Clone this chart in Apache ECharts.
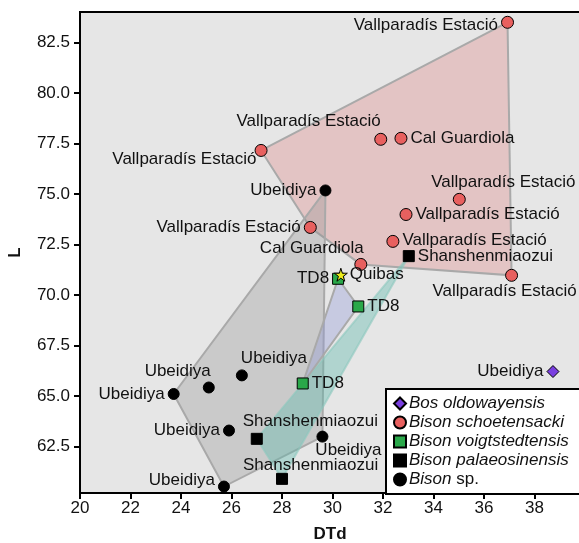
<!DOCTYPE html>
<html>
<head>
<meta charset="utf-8">
<script src="https://cdn.jsdelivr.net/npm/echarts@6.0.0/dist/echarts.min.js"></script>
<style>
  html, body { margin: 0; padding: 0; background: #fff; }
  #chart { width: 579px; height: 543px; }
</style>
</head>
<body>
<div id="chart"></div>
<script>
  // values (DTd, L)
  var bosOldowayensis = [[38.73, 66.21]];
  var bosOldowayensisSites = ['Ubeidiya'];

  var bisonSchoetensacki = [
    [36.93, 83.49], [27.17, 77.15], [31.91, 77.70], [32.71, 77.75], [35.02, 74.73],
    [32.91, 73.98], [29.12, 73.34], [32.39, 72.65], [31.12, 71.51], [37.09, 70.97]
  ];
  var bisonSchoetensackiSites = [
    'Vallparadís Estació', 'Vallparadís Estació', 'Vallparadís Estació', 'Cal Guardiola',
    'Vallparadís Estació', 'Vallparadís Estació', 'Vallparadís Estació', 'Vallparadís Estació',
    'Cal Guardiola', 'Vallparadís Estació'
  ];

  var bisonVoigtstedtensis = [[30.22, 70.80], [31.02, 69.43], [28.82, 65.62]];
  var bisonVoigtstedtensisSites = ['TD8', 'TD8', 'TD8'];

  var bisonPalaeosinensis = [[33.02, 71.92], [27.00, 62.88], [28.00, 60.90]];
  var bisonPalaeosinensisSites = ['Shanshenmiaozui', 'Shanshenmiaozui', 'Shanshenmiaozui'];

  var bisonSp = [
    [29.72, 75.17], [23.71, 65.10], [25.10, 65.42], [26.41, 66.02],
    [25.90, 63.29], [29.60, 62.99], [25.70, 60.52]
  ];
  var bisonSpSites = ['Ubeidiya', 'Ubeidiya', 'Ubeidiya', 'Ubeidiya', 'Ubeidiya', 'Ubeidiya', 'Ubeidiya'];

  var quibas = [[30.33, 71.00]];
  var quibasSites = ['Quibas'];

  // convex hull vertices (indices into the arrays above)
  var schoetensackiHull = [0, 1, 6, 8, 9];
  var bisonSpHull = [0, 1, 6, 5];
  var voigtstedtensisHull = [0, 1, 2];
  var palaeosinensisHull = [0, 1, 2];

  var xTicks = [20, 22, 24, 26, 28, 30, 32, 34, 36, 38];
  var yTicks = [62.5, 65, 67.5, 70, 72.5, 75, 77.5, 80, 82.5];

  // label placement per point: [position, dx, dy, align]
  var bosLabels = [['left', 0, 0]];
  var schoetLabels = [
    ['left', 0, 3], ['left', 5, 9], ['top', 0, 0, 'right'], ['right', 0, 0], ['top', 44, 1],
    ['right', 0, 0], ['left', 0, 0], ['right', 0, -1], ['top', 3, 2, 'right'], ['bottom', -7, -2]
  ];
  var voigtLabels = [['left', 0, 0], ['right', 0, 0], ['right', 0, 0]];
  var palaeoLabels = [['right', 0, 0], ['top', -14, 0, 'left'], ['top', -39, 4, 'left']];
  var bisonSpLabels = [
    ['left', 0, 0], ['left', 0, 0], ['top', 2, 1, 'right'], ['top', -1, 0, 'left'],
    ['left', 0, 0], ['bottom', 26, -4], ['left', 0, -6]
  ];
  var quibasLabels = [['right', -1, 0]];

  var FONT = 'Liberation Sans, Arial, Helvetica, sans-serif';

  var chart = echarts.init(document.getElementById('chart'));

  function points(values, sites, placements) {
    return values.map(function (v, i) {
      var p = placements[i];
      var label = { show: true, position: p[0], offset: [p[1], p[2]], distance: 3 };
      if (p[3]) label.align = p[3];
      return { value: v, name: sites[i], label: label };
    });
  }

  function scatter(name, values, sites, placements, symbol, size, color) {
    return {
      name: name,
      type: 'scatter',
      symbol: symbol,
      symbolSize: size,
      z: 5,
      itemStyle: { color: color, borderColor: '#000', borderWidth: 1, opacity: 1 },
      label: {
        formatter: '{b}',
        color: '#111',
        fontSize: 17,
        fontFamily: FONT
      },
      emphasis: { disabled: true },
      data: points(values, sites, placements)
    };
  }

  function hull(values, idx, fill, stroke) {
    var verts = idx.map(function (i) { return values[i]; });
    return {
      type: 'custom',
      silent: true,
      z: 2,
      data: verts,
      renderItem: function (params, api) {
        if (params.dataIndex !== 0) return;
        var pts = verts.map(function (v) { return api.coord(v); });
        return {
          type: 'polygon',
          shape: { points: pts },
          style: { fill: fill, stroke: stroke, lineWidth: 2 }
        };
      }
    };
  }

  var starPath = 'path://M50,0 L61,35 L98,35 L68,57 L79,91 L50,70 L21,91 L32,57 L2,35 L39,35 Z';

  var option = {
    animation: false,
    textStyle: { fontFamily: FONT },
    grid: {
      left: 80, right: -1, top: 12, bottom: 50,
      show: true,
      backgroundColor: '#e6e6e6',
      borderColor: '#000',
      borderWidth: 2,
      outerBoundsMode: 'none'
    },
    xAxis: {
      type: 'value',
      min: 20,
      max: 39.8,
      name: 'DTd',
      nameLocation: 'middle',
      nameGap: 33,
      nameTextStyle: { fontSize: 17, fontWeight: 'bold', color: '#111' },
      axisLine: { lineStyle: { color: '#000', width: 2 } },
      axisTick: { length: 6, lineStyle: { color: '#000', width: 2 }, customValues: xTicks },
      axisLabel: { fontSize: 17, color: '#111', margin: 7, customValues: xTicks },
      splitLine: { show: false }
    },
    yAxis: {
      type: 'value',
      min: 60.2,
      max: 84,
      name: 'L',
      nameLocation: 'middle',
      nameGap: 56,
      nameTextStyle: { fontSize: 17, fontWeight: 'bold', color: '#111' },
      axisLine: { lineStyle: { color: '#000', width: 2 } },
      axisTick: { length: 6, lineStyle: { color: '#000', width: 2 }, customValues: yTicks },
      axisLabel: {
        fontSize: 17, color: '#111', margin: 10, customValues: yTicks,
        formatter: function (v) { return v.toFixed(1); }
      },
      splitLine: { show: false }
    },
    legend: {
      data: ['Bos oldowayensis', 'Bison schoetensacki', 'Bison voigtstedtensis', 'Bison palaeosinensis', 'Bison sp.'],
      orient: 'vertical',
      left: 386,
      top: 389,
      padding: [6, 30, 6, 7],
      itemGap: 2,
      itemWidth: 12,
      itemHeight: 12,
      backgroundColor: '#fff',
      borderColor: '#000',
      borderWidth: 2,
      selectedMode: false,
      formatter: function (name) {
        if (name === 'Bison sp.') return '{i|Bison} {n|sp.}';
        return '{i|' + name + '}';
      },
      textStyle: {
        fontSize: 17,
        color: '#111',
        padding: [0, 0, 0, -2],
        rich: {
          i: { fontStyle: 'italic', fontSize: 17, color: '#111', fontFamily: FONT },
          n: { fontSize: 17, color: '#111', fontFamily: FONT }
        }
      }
    },
    series: [
      hull(bisonSchoetensacki, schoetensackiHull, 'rgba(222,120,120,0.30)', '#a9a9a9'),
      hull(bisonSp, bisonSpHull, 'rgba(140,140,140,0.30)', '#a9a9a9'),
      hull(bisonPalaeosinensis, palaeosinensisHull, 'rgba(90,185,170,0.38)', 'rgba(140,200,190,0.6)'),
      hull(bisonVoigtstedtensis, voigtstedtensisHull, 'rgba(140,150,215,0.35)', '#a9a9a9'),
      scatter('Bos oldowayensis', bosOldowayensis, bosOldowayensisSites, bosLabels, 'diamond', 12, '#7a3fe0'),
      scatter('Bison schoetensacki', bisonSchoetensacki, bisonSchoetensackiSites, schoetLabels, 'circle', 12, '#e8605f'),
      scatter('Bison voigtstedtensis', bisonVoigtstedtensis, bisonVoigtstedtensisSites, voigtLabels, 'rect', 11, '#2aa84a'),
      scatter('Bison palaeosinensis', bisonPalaeosinensis, bisonPalaeosinensisSites, palaeoLabels, 'rect', 11, '#000'),
      scatter('Bison sp.', bisonSp, bisonSpSites, bisonSpLabels, 'circle', 11, '#000'),
      scatter('Quibas', quibas, quibasSites, quibasLabels, starPath, 13, '#ecec1c')
    ]
  };

  chart.setOption(option);
</script>
</body>
</html>
